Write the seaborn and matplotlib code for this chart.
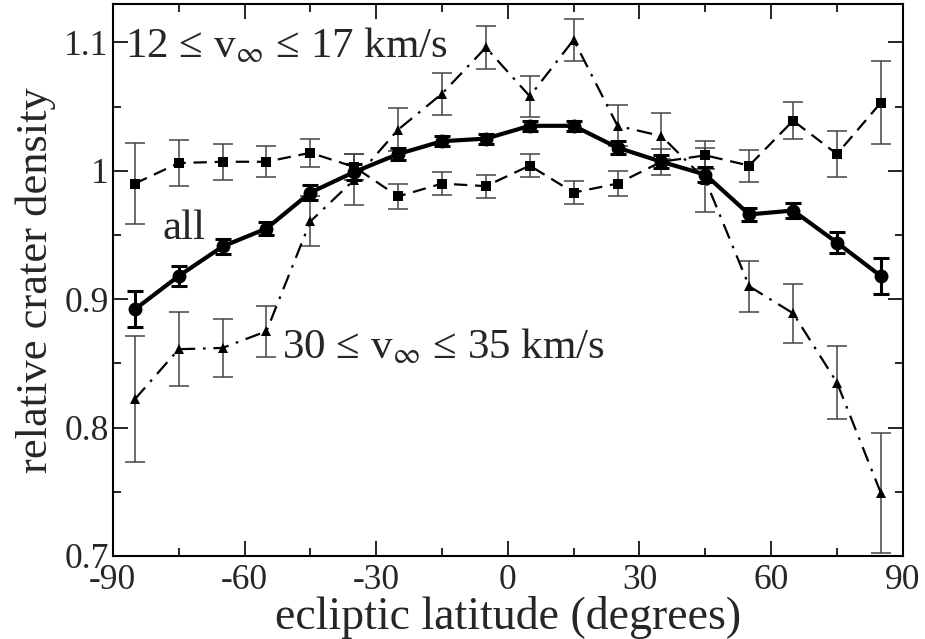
import numpy as np
import pandas as pd
import matplotlib
matplotlib.use('Agg')
import matplotlib.pyplot as plt
from matplotlib.ticker import MultipleLocator
import seaborn as sns

# Данные
latitude = [-85, -75, -65, -55, -45, -35, -25, -15, -5, 5, 15, 25, 35, 45, 55, 65, 75, 85]

all_density = [0.892, 0.918, 0.941, 0.955, 0.983, 0.999, 1.013, 1.023, 1.025,
               1.035, 1.035, 1.018, 1.007, 0.997, 0.966, 0.969, 0.944, 0.918]
all_err = [0.014, 0.008, 0.006, 0.005, 0.006, 0.006, 0.005, 0.004, 0.004,
           0.004, 0.004, 0.005, 0.005, 0.006, 0.005, 0.006, 0.008, 0.014]

slow_density = [0.990, 1.006, 1.007, 1.007, 1.014, 1.003, 0.980, 0.990, 0.988,
                1.004, 0.983, 0.990, 1.007, 1.012, 1.004, 1.039, 1.013, 1.053]
slow_err = [0.0315, 0.018, 0.014, 0.012, 0.011, 0.010, 0.0097, 0.009, 0.009,
            0.009, 0.009, 0.0097, 0.010, 0.011, 0.0125, 0.0145, 0.018, 0.0325]

fast_density = [0.822, 0.861, 0.862, 0.875, 0.9605, 0.993, 1.032, 1.060, 1.096,
                1.058, 1.102, 1.035, 1.027, 0.993, 0.910, 0.889, 0.835, 0.749]
fast_err = [0.049, 0.029, 0.0227, 0.0197, 0.0195, 0.020, 0.0165, 0.0165, 0.0165,
            0.016, 0.0165, 0.016, 0.018, 0.025, 0.0197, 0.023, 0.0286, 0.047]

sns.set_style('ticks')
plt.rcParams['font.family'] = ['Liberation Serif', 'DejaVu Serif']
plt.rcParams['mathtext.fontset'] = 'stix'
plt.rcParams['axes.unicode_minus'] = False

fig = plt.figure(figsize=(9.25, 6.39), dpi=100)
ax = fig.add_axes([0.122, 0.130, 0.854, 0.864])

# 12-17 км/с: квадраты, штриховая линия
ax.errorbar(latitude, slow_density, yerr=slow_err, fmt='none', ecolor='#444444',
            elinewidth=1.1, capsize=7, capthick=1.1, zorder=2)
sns.lineplot(x=latitude, y=slow_density, ax=ax, color='black', linewidth=1.6,
             linestyle=(0, (6, 3.5)), marker='s', markersize=6.5, markeredgewidth=0, zorder=3)

# 30-35 км/с: треугольники, штрих-пунктир
ax.errorbar(latitude, fast_density, yerr=fast_err, fmt='none', ecolor='#444444',
            elinewidth=1.1, capsize=7, capthick=1.1, zorder=2)
sns.lineplot(x=latitude, y=fast_density, ax=ax, color='black', linewidth=1.6,
             linestyle=(0, (7, 3.5, 1.2, 3.5)), marker='^', markersize=6.5, markeredgewidth=0, zorder=3)

# все
ax.errorbar(latitude, all_density, yerr=all_err, fmt='none', ecolor='black',
            elinewidth=2.2, capsize=6, capthick=2.2, zorder=4)
sns.lineplot(x=latitude, y=all_density, ax=ax, color='black', linewidth=3,
             marker='o', markersize=10, markeredgewidth=0, zorder=5)

ax.set_xlim(-90, 90)
ax.set_ylim(0.7, 1.13)
ax.xaxis.set_major_locator(MultipleLocator(30))
ax.xaxis.set_minor_locator(MultipleLocator(15))
ax.yaxis.set_minor_locator(MultipleLocator(0.05))
ax.set_yticks([0.7, 0.8, 0.9, 1.0, 1.1])
ax.set_yticklabels(['0.7', '0.8', '0.9', '1', '1.1'])
ax.tick_params(which='both', direction='in', top=True, right=True, labelsize=25.5,
               width=1.2, color='black')
ax.tick_params(which='major', length=11)
ax.tick_params(which='minor', length=6)
ax.tick_params(axis='x', pad=6)
ax.tick_params(axis='y', pad=3)
for sp in ax.spines.values():
    sp.set_linewidth(1.5)
    sp.set_color('black')

ax.set_xlabel('ecliptic latitude (degrees)', fontsize=33, labelpad=-1)
ax.set_ylabel('relative crater density', fontsize=32, labelpad=6)

ax.text(-87.3, 1.097, '12 ≤ v$_{\\infty}$ ≤ 17 km/s', fontsize=31, va='center', ha='left')
ax.text(-78.7, 0.955, 'all', fontsize=31, va='center', ha='left')
ax.text(-51.4, 0.862, '30 ≤ v$_{\\infty}$ ≤ 35 km/s', fontsize=31, va='center', ha='left')

fig.savefig('out.png', dpi=100)
